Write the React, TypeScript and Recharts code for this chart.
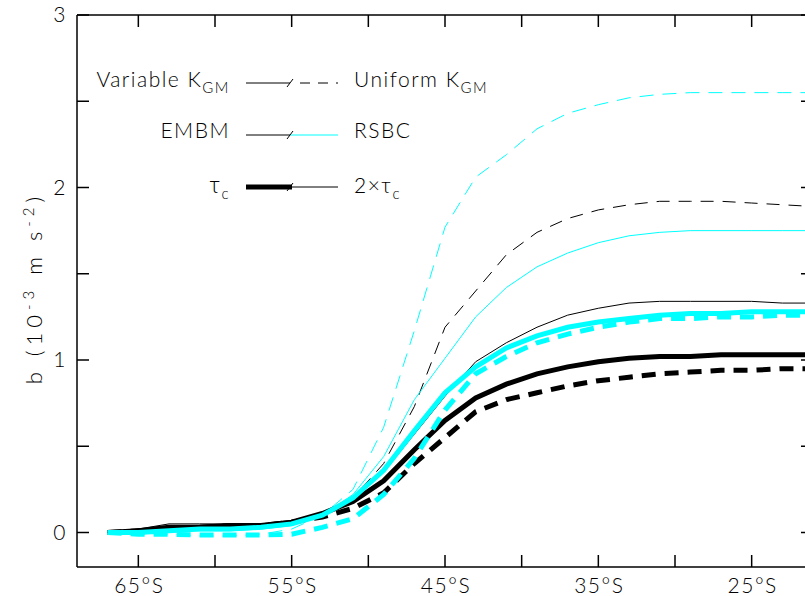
import React from "react";
import { LineChart, Line, XAxis, YAxis } from "recharts";

// latitude grid (deg, negative = south)
const LAT = [-67, -65, -63, -61, -59, -57, -55, -53, -51, -49, -47, -45, -43, -41, -39, -37, -35, -33, -31, -29, -27, -25, -23, -21];

// b (10^-3 m s^-2) for each run
const varEmbmTau = [0, 0.01, 0.03, 0.03, 0.04, 0.04, 0.06, 0.11, 0.18, 0.30, 0.48, 0.65, 0.78, 0.86, 0.92, 0.96, 0.99, 1.01, 1.02, 1.02, 1.03, 1.03, 1.03, 1.03];
const uniEmbmTau = [0, 0.01, 0.02, 0.03, 0.04, 0.04, 0.06, 0.09, 0.14, 0.23, 0.40, 0.55, 0.70, 0.77, 0.81, 0.85, 0.88, 0.90, 0.92, 0.93, 0.94, 0.94, 0.95, 0.95];
const varRsbcTau = [0, 0, 0.01, 0.02, 0.02, 0.03, 0.05, 0.10, 0.20, 0.36, 0.59, 0.81, 0.96, 1.07, 1.14, 1.19, 1.22, 1.24, 1.26, 1.27, 1.27, 1.28, 1.28, 1.28];
const uniRsbcTau = [0, -0.01, -0.01, -0.015, -0.015, -0.015, -0.01, 0.03, 0.08, 0.22, 0.43, 0.71, 0.92, 1.02, 1.10, 1.15, 1.19, 1.22, 1.24, 1.24, 1.25, 1.25, 1.26, 1.26];
const varEmbm2Tau = [0, 0.02, 0.05, 0.05, 0.05, 0.05, 0.07, 0.11, 0.19, 0.35, 0.57, 0.79, 0.99, 1.10, 1.19, 1.26, 1.30, 1.33, 1.34, 1.34, 1.34, 1.34, 1.33, 1.33];
const uniEmbm2Tau = [0, 0.02, 0.04, 0.04, 0.04, 0.04, 0.06, 0.11, 0.20, 0.40, 0.73, 1.19, 1.40, 1.61, 1.74, 1.82, 1.87, 1.90, 1.92, 1.92, 1.92, 1.91, 1.90, 1.89];
const varRsbc2Tau = [0, 0, 0.01, 0.01, 0.01, 0.02, 0.04, 0.10, 0.22, 0.44, 0.77, 1.01, 1.25, 1.42, 1.54, 1.62, 1.68, 1.72, 1.74, 1.75, 1.75, 1.75, 1.75, 1.75];
const uniRsbc2Tau = [0, -0.01, -0.01, -0.02, -0.02, -0.01, 0.02, 0.10, 0.25, 0.61, 1.17, 1.77, 2.06, 2.19, 2.34, 2.43, 2.48, 2.52, 2.54, 2.55, 2.55, 2.55, 2.55, 2.55];

const X_TICKS = [-65, -60, -55, -50, -45, -40, -35, -30, -25];
const X_LABELS = [-65, -55, -45, -35, -25];
const Y_TICKS = [0, 0.5, 1, 1.5, 2, 2.5, 3];

const data = LAT.map((lat, i) => ({
  lat,
  varEmbmTau: varEmbmTau[i],
  uniEmbmTau: uniEmbmTau[i],
  varRsbcTau: varRsbcTau[i],
  uniRsbcTau: uniRsbcTau[i],
  varEmbm2Tau: varEmbm2Tau[i],
  uniEmbm2Tau: uniEmbm2Tau[i],
  varRsbc2Tau: varRsbc2Tau[i],
  uniRsbc2Tau: uniRsbc2Tau[i],
}));

const FONT = "Lato, 'Liberation Sans', sans-serif";
const CYAN = "#00ffff";
const TICK = 12;

const txt = { fontFamily: FONT, fontWeight: 300, fill: "#000", letterSpacing: 1.5 } as const;

const BottomTick = ({ x, y, payload }: any) => (
  <g>
    <line x1={x} y1={y} x2={x} y2={y - TICK} stroke="#000" strokeWidth={1.5} />
    {X_LABELS.includes(payload.value) && (
      <text x={x + 1} y={y + 26} textAnchor="middle" fontSize={21} {...txt}>
        {`${-payload.value}°S`}
      </text>
    )}
  </g>
);

const TopTick = ({ x, y }: any) => (
  <line x1={x} y1={y} x2={x} y2={y + TICK} stroke="#000" strokeWidth={1.5} />
);

const LeftTick = ({ x, y, payload }: any) => (
  <g>
    <line x1={x} y1={y} x2={x + TICK} y2={y} stroke="#000" strokeWidth={1.5} />
    {Number.isInteger(payload.value) && (
      <text x={x - 10} y={y + 7} textAnchor="end" fontSize={21} {...txt}>
        {payload.value}
      </text>
    )}
  </g>
);

const RightTick = ({ x, y }: any) => (
  <line x1={x} y1={y} x2={x - TICK} y2={y} stroke="#000" strokeWidth={1.5} />
);

function Overlay() {
  const l1 = 246, mid = 290, l2 = 338;
  const slash = (y: number) => <line x1={mid - 3} y1={y + 4} x2={mid + 3} y2={y - 4} stroke="#000" strokeWidth={1} />;
  return (
    <svg width={805} height={596} style={{ position: "absolute", left: 0, top: 0, pointerEvents: "none" }}>
      {/* y axis title */}
      <text transform="translate(42 288) rotate(-90)" textAnchor="middle" fontSize={22} {...txt} letterSpacing={5}>
        b (10<tspan fontSize={15} dy={-8}>-3</tspan><tspan dy={8}> m s</tspan><tspan fontSize={15} dy={-8}>-2</tspan><tspan dy={8}>)</tspan>
      </text>

      {/* row 1: Variable vs Uniform K_GM */}
      <text x={230} y={87} textAnchor="end" fontSize={21} {...txt}>
        Variable K<tspan fontSize={15} dy={6}>GM</tspan>
      </text>
      <line x1={l1} y1={83} x2={mid} y2={83} stroke="#000" strokeWidth={1} />
      <line x1={mid + 10} y1={83} x2={l2} y2={83} stroke="#000" strokeWidth={1} strokeDasharray="10 8" />
      {slash(83)}
      <text x={354} y={87} fontSize={21} {...txt}>
        Uniform K<tspan fontSize={15} dy={6}>GM</tspan>
      </text>

      {/* row 2: EMBM vs RSBC */}
      <text x={230} y={138} textAnchor="end" fontSize={21} {...txt}>EMBM</text>
      <line x1={l1} y1={135} x2={mid} y2={135} stroke="#000" strokeWidth={1} />
      <line x1={mid} y1={135} x2={l2} y2={135} stroke={CYAN} strokeWidth={1} />
      {slash(135)}
      <text x={354} y={138} fontSize={21} {...txt}>RSBC</text>

      {/* row 3: tau_c vs 2 tau_c */}
      <text x={230} y={193} textAnchor="end" fontSize={23} {...txt}>
        τ<tspan fontSize={15} dy={6}>c</tspan>
      </text>
      <line x1={l1} y1={187} x2={mid + 2} y2={187} stroke="#000" strokeWidth={5} />
      <line x1={mid} y1={187} x2={l2} y2={187} stroke="#000" strokeWidth={1} />
      {slash(187)}
      <text x={354} y={193} fontSize={21} {...txt}>
        2×τ<tspan fontSize={15} dy={6}>c</tspan>
      </text>
    </svg>
  );
}

export default function App() {
  const thin = 1;
  const thick = 5;
  return (
    <div style={{ position: "absolute", left: 0, top: 0, width: 805, height: 596, overflow: "hidden", background: "#fff" }}>
      <LineChart width={830} height={596} data={data} margin={{ top: 0, right: 0, bottom: 0, left: 0 }}>
        <XAxis
          dataKey="lat"
          type="number"
          domain={[-69, -21]}
          ticks={X_TICKS}
          allowDataOverflow
          height={29}
          tickSize={0}
          tickMargin={0}
          tickLine={false}
          axisLine={{ stroke: "#000", strokeWidth: 1.5 }}
          tick={<BottomTick />}
        />
        <XAxis
          xAxisId="top"
          orientation="top"
          dataKey="lat"
          type="number"
          domain={[-69, -21]}
          ticks={X_TICKS}
          allowDataOverflow
          height={15}
          tickSize={0}
          tickMargin={0}
          tickLine={false}
          axisLine={{ stroke: "#000", strokeWidth: 1.5 }}
          tick={<TopTick />}
        />
        <YAxis
          type="number"
          domain={[-0.2, 3]}
          ticks={Y_TICKS}
          allowDataOverflow
          width={77}
          tickSize={0}
          tickMargin={0}
          tickLine={false}
          axisLine={{ stroke: "#000", strokeWidth: 1.5 }}
          tick={<LeftTick />}
        />
        <YAxis
          yAxisId="right"
          orientation="right"
          type="number"
          domain={[-0.2, 3]}
          ticks={Y_TICKS}
          allowDataOverflow
          width={17}
          tickSize={0}
          tickMargin={0}
          tickLine={false}
          axisLine={{ stroke: "#000", strokeWidth: 1.5 }}
          tick={<RightTick />}
        />
        <Line dataKey="varEmbm2Tau" type="linear" stroke="#000" strokeWidth={thin} dot={false} isAnimationActive={false} />
        <Line dataKey="uniEmbm2Tau" type="linear" stroke="#000" strokeWidth={thin} strokeDasharray="13 9" dot={false} isAnimationActive={false} />
        <Line dataKey="varRsbc2Tau" type="linear" stroke={CYAN} strokeWidth={thin} dot={false} isAnimationActive={false} />
        <Line dataKey="uniRsbc2Tau" type="linear" stroke={CYAN} strokeWidth={thin} strokeDasharray="14 9" dot={false} isAnimationActive={false} />
        <Line dataKey="uniEmbmTau" type="linear" stroke="#000" strokeWidth={thick} strokeDasharray="14 9" dot={false} isAnimationActive={false} />
        <Line dataKey="varEmbmTau" type="linear" stroke="#000" strokeWidth={thick} dot={false} isAnimationActive={false} />
        <Line dataKey="uniRsbcTau" type="linear" stroke={CYAN} strokeWidth={thick} strokeDasharray="14 9" dot={false} isAnimationActive={false} />
        <Line dataKey="varRsbcTau" type="linear" stroke={CYAN} strokeWidth={thick} dot={false} isAnimationActive={false} />
      </LineChart>
      <Overlay />
    </div>
  );
}
